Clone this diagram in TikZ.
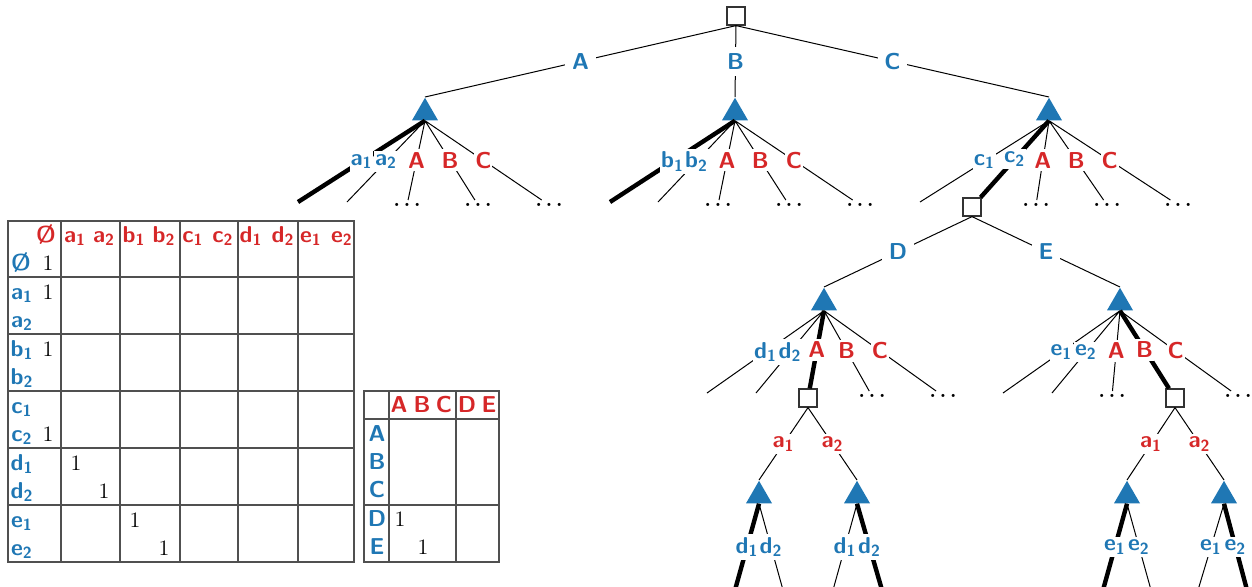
\documentclass[tikz,border=0pt]{standalone}
\usepackage{fontspec}
\usepackage{tikz}
\usetikzlibrary{shapes.geometric}
\definecolor{OwnBlue}{RGB}{31,119,180}
\definecolor{OppRed}{RGB}{214,39,40}
\definecolor{RuleGray}{RGB}{80,80,80}
\newcommand{\lab}[2]{#1\textsubscript{#2}}

\begin{document}
\begin{tikzpicture}[
        x=0.5pt,y=-0.5pt,
        every node/.style={font=\sffamily\bfseries\fontsize{11.5}{13}\selectfont},
        chance/.style={regular polygon,regular polygon sides=3,fill=OwnBlue,inner sep=0pt,minimum size=15pt,anchor=north},
        info/.style={rectangle,draw=black!80,fill=white,line width=0.6pt,minimum size=9pt,inner sep=0pt},
        more/.style={anchor=north,inner sep=1.5pt,font=\normalfont\boldmath},
        topAct/.style={text=OwnBlue,fill=white},
        own/.style={text=OwnBlue,fill=white,inner xsep=0.5pt,inner ysep=1.5pt},
        opp/.style={text=OppRed,fill=white,inner xsep=0.5pt,inner ysep=1.5pt},
        plain/.style={line width=0.5pt},
        best/.style={line width=2.2pt},
        rule/.style={draw=RuleGray,line width=0.6pt},
        rowLab/.style={anchor=base,text=OwnBlue},
        colLab/.style={anchor=base,text=OppRed},
        val/.style={anchor=base,font=\rmfamily\fontsize{11}{13}\selectfont}]
        \useasboundingbox (0,0) rectangle (1252,586);
        % first move
        \node[info] (r) at (736,16) {};
        \node[chance] (tA) at (425,97) {};
        \node[chance] (tB) at (735,97) {};
        \node[chance] (tC) at (1049,97) {};
        \draw[plain] (r.south) -- node[topAct]{A} (tA.north)
                     (r.south) -- node[topAct]{B} (tB.north)
                     (r.south) -- node[topAct]{C} (tC.north);
        % replies below A
        \coordinate (a1) at (298,202);
        \coordinate (a2) at (347,202);
        \node[more] (aA) at (407,200) {$\ldots$};
        \node[more] (aB) at (478,200) {$\ldots$};
        \node[more] (aC) at (549,200) {$\ldots$};
        \draw[best] (tA.south) -- node[own]{\lab{a}{1}} (a1);
        \draw[plain] (tA.south) -- node[own]{\lab{a}{2}} (a2)
                     (tA.south) -- node[opp]{A} (aA)
                     (tA.south) -- node[opp]{B} (aB)
                     (tA.south) -- node[opp]{C} (aC);
        % replies below B
        \coordinate (b1) at (610,202);
        \coordinate (b2) at (658,202);
        \node[more] (bA) at (718,200) {$\ldots$};
        \node[more] (bB) at (789,200) {$\ldots$};
        \node[more] (bC) at (860,200) {$\ldots$};
        \draw[best] (tB.south) -- node[own]{\lab{b}{1}} (b1);
        \draw[plain] (tB.south) -- node[own]{\lab{b}{2}} (b2)
                     (tB.south) -- node[opp]{A} (bA)
                     (tB.south) -- node[opp]{B} (bB)
                     (tB.south) -- node[opp]{C} (bC);
        % replies below C
        \coordinate (c1) at (920,202);
        \node[info] (sC) at (972,207) {};
        \node[more] (cA) at (1036,200) {$\ldots$};
        \node[more] (cB) at (1107,200) {$\ldots$};
        \node[more] (cC) at (1178,200) {$\ldots$};
        \draw[best] (tC.south) -- node[own]{\lab{c}{2}} (sC);
        \draw[plain] (tC.south) -- node[own]{\lab{c}{1}} (c1)
                     (tC.south) -- node[opp]{A} (cA)
                     (tC.south) -- node[opp]{B} (cB)
                     (tC.south) -- node[opp]{C} (cC);
        % second move
        \node[chance] (tD) at (824,287) {};
        \node[chance] (tE) at (1120,287) {};
        \draw[plain] (sC.south) -- node[topAct]{D} (tD.north)
                     (sC.south) -- node[topAct]{E} (tE.north);
        % replies below D
        \coordinate (d1) at (707,393);
        \coordinate (d2) at (756,393);
        \node[info] (sD) at (808,398) {};
        \node[more] (dB) at (872,391) {$\ldots$};
        \node[more] (dC) at (943,391) {$\ldots$};
        \draw[best] (tD.south) -- node[opp]{A} (sD);
        \draw[plain] (tD.south) -- node[own]{\lab{d}{1}} (d1)
                     (tD.south) -- node[own]{\lab{d}{2}} (d2)
                     (tD.south) -- node[opp]{B} (dB)
                     (tD.south) -- node[opp]{C} (dC);
        % replies below E
        \coordinate (e1) at (1003,393);
        \coordinate (e2) at (1052,393);
        \node[more] (eA) at (1112,391) {$\ldots$};
        \node[info] (sE) at (1175,398) {};
        \node[more] (eC) at (1238,391) {$\ldots$};
        \draw[best] (tE.south) -- node[opp]{B} (sE);
        \draw[plain] (tE.south) -- node[own]{\lab{e}{1}} (e1)
                     (tE.south) -- node[own]{\lab{e}{2}} (e2)
                     (tE.south) -- node[opp]{A} (eA)
                     (tE.south) -- node[opp]{C} (eC);
        % D then A
        \node[chance] (tDa) at (759,480) {};
        \node[chance] (tDb) at (857,480) {};
        \draw[plain] (sD.south) -- node[opp]{\lab{a}{1}} (tDa.north)
                     (sD.south) -- node[opp]{\lab{a}{2}} (tDb.north);
        \coordinate (da1) at (735,590);
        \coordinate (da2) at (783,590);
        \coordinate (db1) at (833,590);
        \coordinate (db2) at (882,590);
        \draw[best] (tDa.south) -- node[own]{\lab{d}{1}} (da1)
                    (tDb.south) -- node[own]{\lab{d}{2}} (db2);
        \draw[plain] (tDa.south) -- node[own]{\lab{d}{2}} (da2)
                     (tDb.south) -- node[own]{\lab{d}{1}} (db1);
        % E then B
        \node[chance] (tEa) at (1127,480) {};
        \node[chance] (tEb) at (1224,480) {};
        \draw[plain] (sE.south) -- node[opp]{\lab{a}{1}} (tEa.north)
                     (sE.south) -- node[opp]{\lab{a}{2}} (tEb.north);
        \coordinate (ea1) at (1103,590);
        \coordinate (ea2) at (1151,590);
        \coordinate (eb1) at (1198,590);
        \coordinate (eb2) at (1247,590);
        \draw[best] (tEa.south) -- node[own]{\lab{e}{1}} (ea1)
                    (tEb.south) -- node[own]{\lab{e}{2}} (eb2);
        \draw[plain] (tEa.south) -- node[own]{\lab{e}{2}} (ea2)
                     (tEb.south) -- node[own]{\lab{e}{1}} (eb1);
        % sequence table
        \draw[rule] (8,221) rectangle (354,562)
                    (61,221) -- (61,562) (120,221) -- (120,562) (180,221) -- (180,562)
                    (238,221) -- (238,562) (298,221) -- (298,562)
                    (8,277) -- (354,277) (8,334) -- (354,334) (8,391) -- (354,391)
                    (8,448) -- (354,448) (8,505) -- (354,505);
        \node[colLab] (h0) at (46,242) {\O};
        \node[colLab] (ha1) at (75,242) {\lab{a}{1}};
        \node[colLab] (ha2) at (104,242) {\lab{a}{2}};
        \node[colLab] (hb1) at (134,242) {\lab{b}{1}};
        \node[colLab] (hb2) at (164,242) {\lab{b}{2}};
        \node[colLab] (hc1) at (193,242) {\lab{c}{1}};
        \node[colLab] (hc2) at (223,242) {\lab{c}{2}};
        \node[colLab] (hd1) at (251,242) {\lab{d}{1}};
        \node[colLab] (hd2) at (283,242) {\lab{d}{2}};
        \node[colLab] (he1) at (311,242) {\lab{e}{1}};
        \node[colLab] (he2) at (342,242) {\lab{e}{2}};
        \node[rowLab] (r0) at (21,270) {\O};
        \node[rowLab] (ra1) at (22,299) {\lab{a}{1}};
        \node[rowLab] (ra2) at (22,327) {\lab{a}{2}};
        \node[rowLab] (rb1) at (22,356) {\lab{b}{1}};
        \node[rowLab] (rb2) at (22,384) {\lab{b}{2}};
        \node[rowLab] (rc1) at (22,413) {\lab{c}{1}};
        \node[rowLab] (rc2) at (22,441) {\lab{c}{2}};
        \node[rowLab] (rd1) at (22,470) {\lab{d}{1}};
        \node[rowLab] (rd2) at (22,498) {\lab{d}{2}};
        \node[rowLab] (re1) at (22,527) {\lab{e}{1}};
        \node[rowLab] (re2) at (22,555) {\lab{e}{2}};
        \node[val] (v0) at (48,270) {1};
        \node[val] (va1) at (48,299) {1};
        \node[val] (vb1) at (48,356) {1};
        \node[val] (vc2) at (48,441) {1};
        \node[val] (vd1) at (76,470) {1};
        \node[val] (vd2) at (104,498) {1};
        \node[val] (ve1) at (135,527) {1};
        \node[val] (ve2) at (164,555) {1};
        % move table
        \draw[rule] (364,391) rectangle (499,562)
                    (389,391) -- (389,562) (456,391) -- (456,562)
                    (364,419) -- (499,419) (364,505) -- (499,505);
        \node[colLab] (mA) at (399,412) {A};
        \node[colLab] (mB) at (422,412) {B};
        \node[colLab] (mC) at (444,412) {C};
        \node[colLab] (mD) at (467,412) {D};
        \node[colLab] (mE) at (489,412) {E};
        \node[rowLab] (nA) at (377,441) {A};
        \node[rowLab] (nB) at (377,469) {B};
        \node[rowLab] (nC) at (377,497) {C};
        \node[rowLab] (nD) at (377,526) {D};
        \node[rowLab] (nE) at (377,554) {E};
        \node[val] (wD) at (400,526) {1};
        \node[val] (wE) at (423,554) {1};
      \end{tikzpicture}
\end{document}
